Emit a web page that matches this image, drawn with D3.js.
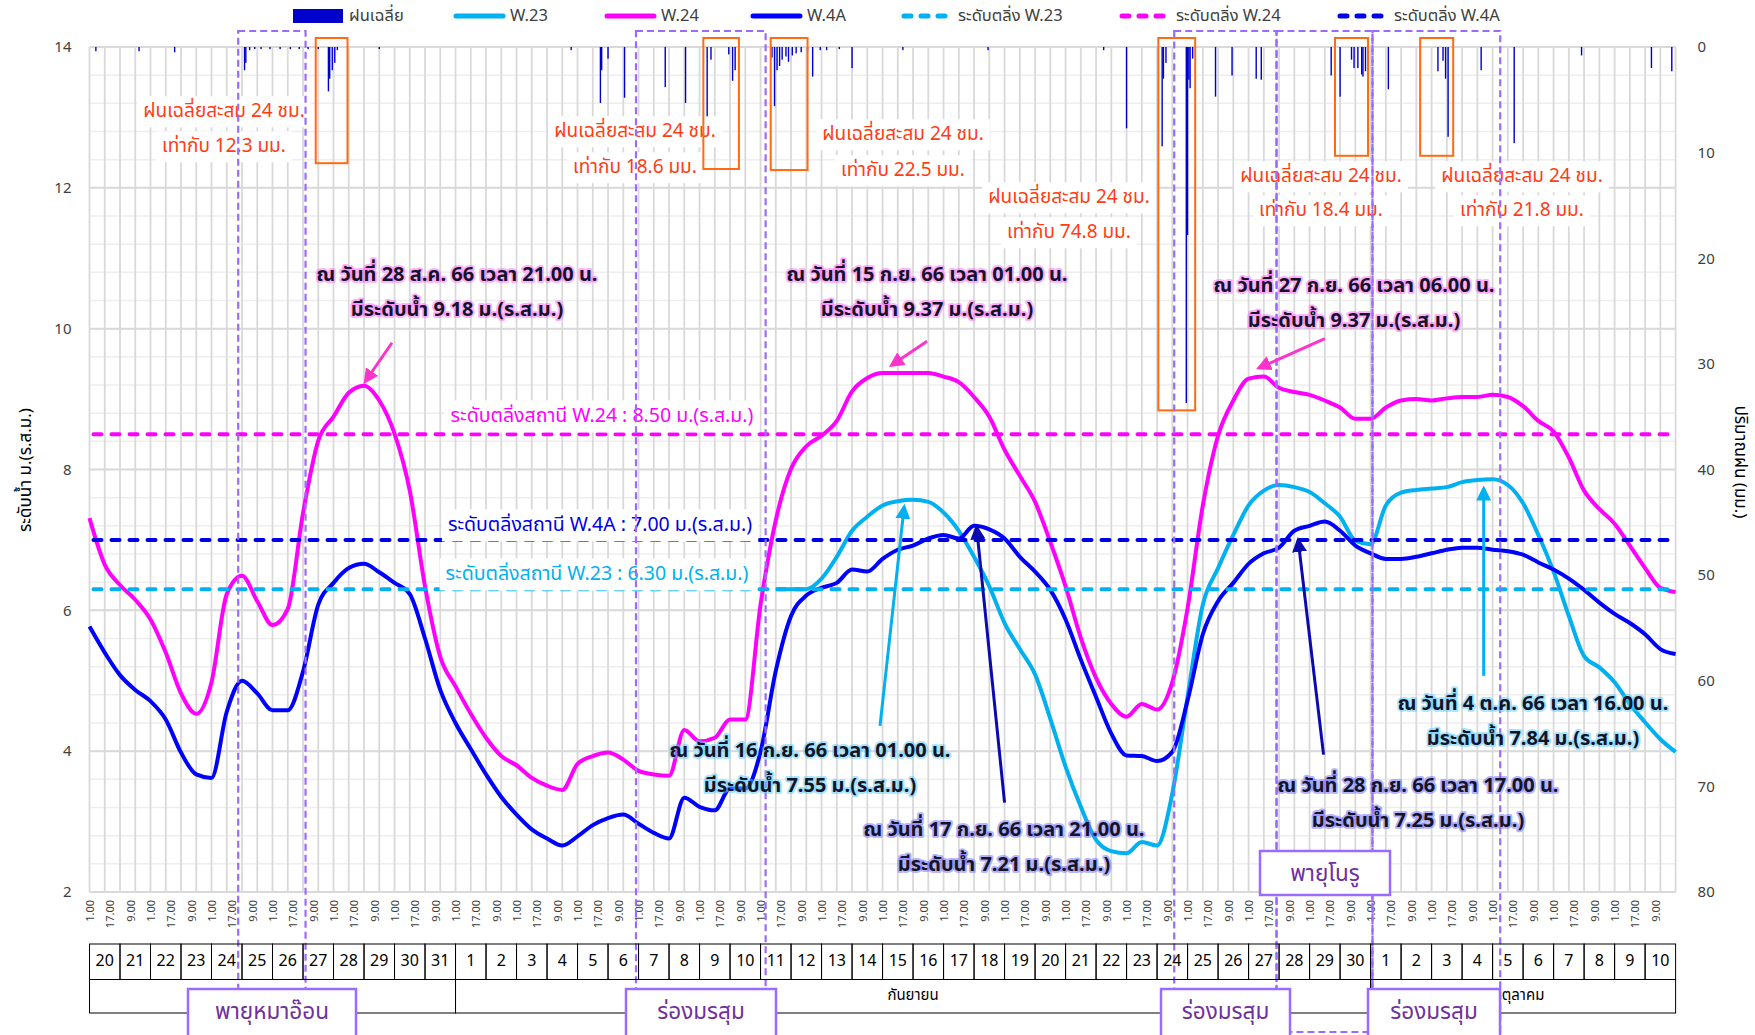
<!DOCTYPE html>
<html><head><meta charset="utf-8">
<script src="https://cdn.jsdelivr.net/npm/d3@7"></script>
<style>
body{margin:0;background:#fff}
svg{display:block}
text{font-family:Tahoma,"Noto Sans Thai","Noto Sans",sans-serif}
</style></head>
<body><svg id="c" width="1755" height="1035"></svg>
<script>
// ---------------- DATA ----------------
const stepHours = 12; // readings every 12 h from 20 Aug
const w24 = [7.31,6.65,6.36,6.15,5.87,5.40,4.82,4.53,4.98,6.23,6.49,6.13,5.79,6.02,7.38,8.41,8.75,9.09,9.19,8.98,
8.51,7.70,6.34,5.34,4.92,4.53,4.19,3.93,3.80,3.62,3.51,3.45,3.82,3.93,3.98,3.88,3.72,3.67,3.65,4.30,
4.14,4.19,4.45,4.45,6.08,7.28,8.01,8.33,8.48,8.69,9.11,9.30,9.37,9.37,9.37,9.37,9.32,9.24,9.03,8.75,
8.28,7.91,7.54,6.97,6.34,5.61,5.04,4.67,4.49,4.67,4.59,4.98,6.03,7.49,8.48,8.98,9.29,9.32,9.16,9.10,
9.06,8.98,8.88,8.72,8.72,8.88,8.98,9.00,8.98,9.01,9.03,9.03,9.06,9.03,8.90,8.69,8.54,8.17,7.70,7.44,
7.23,6.92,6.60,6.32,6.26];
const w4a = [5.77,5.40,5.08,4.87,4.71,4.45,3.98,3.67,3.62,4.56,5.00,4.82,4.58,4.58,5.13,6.08,6.39,6.60,6.66,6.54,
6.39,6.23,5.60,4.87,4.40,4.03,3.67,3.35,3.10,2.89,2.76,2.66,2.79,2.95,3.05,3.10,2.97,2.84,2.76,3.34,
3.21,3.16,3.47,3.47,3.99,5.14,5.92,6.21,6.32,6.39,6.58,6.55,6.73,6.86,6.92,7.02,7.07,7.02,7.20,7.15,
7.02,6.76,6.55,6.29,5.87,5.30,4.77,4.25,3.94,3.93,3.86,3.99,4.72,5.66,6.13,6.39,6.66,6.81,6.89,7.13,
7.20,7.26,7.13,6.92,6.81,6.73,6.73,6.76,6.81,6.86,6.89,6.89,6.86,6.84,6.79,6.68,6.58,6.45,6.29,6.11,
5.95,5.82,5.66,5.45,5.38];
const w23 = [null,null,null,null,null,null,null,null,null,null,null,null,null,null,null,null,null,null,null,null,
null,null,null,null,null,null,null,null,null,null,null,null,null,null,null,null,null,null,null,null,
null,null,null,null,null,6.30,6.30,6.30,6.45,6.76,7.13,7.33,7.49,7.55,7.57,7.54,7.39,7.13,6.76,6.34,
5.82,5.45,5.09,4.46,3.78,3.21,2.74,2.58,2.55,2.71,2.66,3.40,4.77,6.08,6.60,7.07,7.49,7.70,7.78,7.75,
7.68,7.52,7.33,6.99,6.94,7.49,7.67,7.71,7.73,7.75,7.82,7.85,7.86,7.78,7.52,7.07,6.55,5.92,5.35,5.19,
4.98,4.67,4.41,4.17,3.99];
// hourly average rainfall (hour since 20 Aug 00:00, mm)
const rainHours = [5,39,67,122,123,126,130,135,142,150,158,165,172,180,188,189,191,193,195,228,379,402,403,408,421,453,469,486,489,503,506,508,
537,539,541,543,545,548,550,553,556,560,565,569,575,580,590,600,640,707,798,816,844,845,847,863,864,865,866,868,886,899,918,922,
977,984,993,995,998,1001,1002,1004,1022,1061,1065,1067,1069,1095,1121,1174,1229,1245];
const rainMM = [0.4,0.4,0.5,2.2,1.5,0.3,0.2,0.2,0.2,0.2,0.2,0.2,0.2,0.2,4.2,3.0,2.2,1.5,0.3,0.2,0.3,5.3,2.2,1.1,4.8,3.8,5.3,8.5,1.2,0.7,3.2,2.2,
1.0,5.6,2.2,1.8,1.2,0.9,1.4,0.8,0.6,0.5,0.4,2.8,0.3,0.3,0.2,2.0,0.3,0.3,0.3,7.7,9.4,3.0,1.5,33.7,17.8,3.1,3.9,1.1,4.7,2.7,3.0,3.1,
2.7,4.7,1.2,2.0,2.0,2.6,2.8,2.3,4.0,2.3,1.3,3.0,8.5,2.2,9.1,0.8,2.0,2.3];
const thresholds = [{name:"W.23",v:6.30},{name:"W.24",v:8.50},{name:"W.4A",v:7.00}];
const days = [20,21,22,23,24,25,26,27,28,29,30,31,1,2,3,4,5,6,7,8,9,10,11,12,13,14,15,16,17,18,19,20,21,22,23,24,25,26,27,28,29,30,1,2,3,4,5,6,7,8,9,10];
const months = ["สิงหาคม","กันยายน","ตุลาคม"];
const monthDays = [12,30,10];
const levelTicks = [2,4,6,8,10,12,14];
const rainTicks = [0,10,20,30,40,50,60,70,80];
const tickHours = d3.range(0,1248,16);
const tickLabels = tickHours.map(h => ((1+h)%24)+".00");
// ---------------- SETUP ----------------
const C = {w23:"#00b0f0", w24:"#ff00ff", w4a:"#0000ff", rain:"#0000cc", purple:"#9b6bff", orange:"#ff6a13", otext:"#ff3c14"};
const svg = d3.select("#c");
const X0=89.5, X1=1675.6, Y0=47, Y1=892;
const x = d3.scaleLinear().domain([0,1248]).range([X0,X1]);
const y = d3.scaleLinear().domain([2,14]).range([Y1,Y0]);
const yr = d3.scaleLinear().domain([0,80]).range([Y0,Y1]);
const FONT = 'Tahoma,"Noto Sans Thai","Noto Sans",sans-serif';

// gridlines
const g = svg.append("g");
g.selectAll(".hm").data(d3.range(0,31).map(i=>2+i*0.4)).join("line")
 .attr("x1",X0).attr("x2",X1).attr("y1",d=>y(d)).attr("y2",d=>y(d)).attr("stroke","#eeeeee").attr("stroke-width",1.5);
g.selectAll(".hM").data(levelTicks).join("line")
 .attr("x1",X0).attr("x2",X1).attr("y1",d=>y(d)).attr("y2",d=>y(d)).attr("stroke","#d9d9d9").attr("stroke-width",2);
g.selectAll(".v").data(d3.range(0,1249,stepHours)).join("line")
 .attr("x1",d=>x(d)).attr("x2",d=>x(d)).attr("y1",Y0).attr("y2",Y1).attr("stroke","#d9d9d9").attr("stroke-width",1.8);

// axes
const ax = svg.append("g").attr("transform",`translate(${X0-8},0)`).call(d3.axisLeft(y).tickValues(levelTicks).tickSize(0).tickPadding(10));
ax.select(".domain").remove();
ax.selectAll("text").attr("font-size",15).attr("fill","#404040").attr("font-family",FONT);
const ar = svg.append("g").attr("transform",`translate(${X1+12},0)`).call(d3.axisRight(yr).tickValues(rainTicks).tickSize(0).tickPadding(10));
ar.select(".domain").remove();
ar.selectAll("text").attr("font-size",15).attr("fill","#404040").attr("font-family",FONT);
const ab = svg.append("g").attr("transform",`translate(0,${Y1+6})`).call(d3.axisBottom(x).tickValues(tickHours).tickFormat((d,i)=>tickLabels[i]).tickSize(0));
ab.select(".domain").remove();
ab.selectAll("text").attr("transform","rotate(-90)").attr("x",-2).attr("y",0).attr("dy","0.35em")
 .style("text-anchor","end").attr("font-size",11).attr("fill","#404040").attr("font-family",'"DejaVu Sans",sans-serif');

// axis titles
svg.append("text").attr("transform","translate(26,470) rotate(-90)").attr("text-anchor","middle").attr("dominant-baseline","middle")
 .attr("font-size",17).attr("fill","#000").text("ระดับน้ำ ม.(ร.ส.ม.)");
svg.append("text").attr("transform","translate(1740,462) rotate(90)").attr("text-anchor","middle").attr("dominant-baseline","middle")
 .attr("font-size",17).attr("fill","#000").text("ปริมาณฝน (มม.)");

// rain bars
svg.append("g").selectAll("rect").data(rainHours.map((h,i)=>({h,v:rainMM[i]}))).join("rect")
 .attr("x",d=>x(d.h)-0.7).attr("width",1.4).attr("y",yr(0)).attr("height",d=>yr(d.v)-yr(0)).attr("fill",C.rain);

// series
const line = d3.line().defined(d=>d.v!=null).x(d=>x(d.h)).y(d=>y(d.v)).curve(d3.curveMonotoneX);
const toPts = arr => arr.map((v,i)=>({h:i*stepHours,v}));
[[w23,C.w23],[w24,C.w24],[w4a,C.w4a]].forEach(([arr,col])=>{
  svg.append("path").attr("d",line(toPts(arr))).attr("fill","none").attr("stroke",col).attr("stroke-width",4).attr("stroke-linejoin","round");
});
// thresholds
const thrCol = {"W.23":C.w23,"W.24":C.w24,"W.4A":"#0000e6"};
svg.append("g").selectAll("line").data(thresholds).join("line")
 .attr("x1",X0+4).attr("x2",X1-2).attr("y1",d=>y(d.v)).attr("y2",d=>y(d.v))
 .attr("stroke",d=>thrCol[d.name]).attr("stroke-width",4).attr("stroke-dasharray","8,10").attr("stroke-linecap","round");

// threshold labels
const thrLabels = [
 {t:"ระดับตลิ่งสถานี W.24 : 8.50 ม.(ร.ส.ม.)", cx:602, cy:417, col:C.w24},
 {t:"ระดับตลิ่งสถานี W.4A : 7.00 ม.(ร.ส.ม.)", cx:600, cy:526, col:"#0000e6"},
 {t:"ระดับตลิ่งสถานี W.23 : 6.30 ม.(ร.ส.ม.)", cx:597, cy:575, col:C.w23}];
function boxedText(parent, t, cx, cy, size, col, bg, weight){
  const gg = parent.append("g");
  const r = gg.append("rect").attr("fill",bg||"none");
  const tx = gg.append("text").attr("x",cx).attr("y",cy).attr("text-anchor","middle").attr("dominant-baseline","middle")
    .attr("font-size",size).attr("fill",col).attr("font-weight",weight||"normal").text(t);
  const b = tx.node().getBBox();
  r.attr("x",b.x-6).attr("y",b.y-1).attr("width",b.width+12).attr("height",b.height+2);
  return tx;
}
thrLabels.forEach(d=>boxedText(svg,d.t,d.cx,d.cy,19.5,d.col,"#fff"));

// orange rain annotations
const rainNotes = [
 {cx:224, cy1:112, cy2:147, amt:"12.3"},
 {cx:635, cy1:132, cy2:168, amt:"18.6"},
 {cx:903, cy1:135, cy2:171, amt:"22.5"},
 {cx:1069, cy1:198, cy2:233, amt:"74.8"},
 {cx:1321, cy1:177, cy2:211, amt:"18.4"},
 {cx:1522, cy1:177, cy2:211, amt:"21.8"}];
rainNotes.forEach(d=>{
  boxedText(svg,"ฝนเฉลี่ยสะสม 24 ชม.",d.cx,d.cy1,19,C.otext,"#fff");
  boxedText(svg,"เท่ากับ "+d.amt+" มม.",d.cx,d.cy2,19,C.otext,"#fff");
});

// orange rectangles around heavy rain (hours / rain-axis mm)
const rainBoxes = [[178,203,11.0],[483,511,11.55],[536,565,11.65],[841,870,34.4],[980,1006,10.3],[1047,1073,10.3]];
svg.append("g").selectAll("rect").data(rainBoxes).join("rect")
 .attr("x",d=>x(d[0])).attr("width",d=>x(d[1])-x(d[0])).attr("y",yr(-0.85)).attr("height",d=>yr(d[2])-yr(-0.85))
 .attr("fill","none").attr("stroke",C.orange).attr("stroke-width",2);

// purple dashed event periods (hours)
const periods = [[117,170],[430,532],[853.5,934],[934,1009.5],[1009.5,1110]];
svg.append("g").selectAll("rect").data(periods).join("rect")
 .attr("x",d=>x(d[0])).attr("width",d=>x(d[1])-x(d[0])).attr("y",31).attr("height",1001)
 .attr("fill","none").attr("stroke",C.purple).attr("stroke-width",2.2).attr("stroke-dasharray","7,4");

// arrow markers
const defs = svg.append("defs");
const arrowCols = {m:"#ff33cc", c:"#00b0f0", b:"#0a0ab0"};
Object.entries(arrowCols).forEach(([k,col])=>{
  defs.append("marker").attr("id","ah"+k).attr("viewBox","0 0 10 10").attr("refX",8).attr("refY",5)
   .attr("markerWidth",5).attr("markerHeight",5).attr("orient","auto-start-reverse").attr("markerUnits","strokeWidth")
   .append("path").attr("d","M0,0 L10,5 L0,10 z").attr("fill",col);
});
// callouts
const glowCols = {m:"#ff66ff", c:"#55ccff", b:"#6b6bff"};
const callouts = [
 {l1:"ณ วันที่ 28 ส.ค. 66 เวลา 21.00 น.", l2:"มีระดับน้ำ 9.18 ม.(ร.ส.ม.)", cx:457, cy:275, k:"m", from:[238,9.80], to:[217,9.25]},
 {l1:"ณ วันที่ 15 ก.ย. 66 เวลา 01.00 น.", l2:"มีระดับน้ำ 9.37 ม.(ร.ส.ม.)", cx:927, cy:275, k:"m", from:[659,9.82], to:[631,9.48]},
 {l1:"ณ วันที่ 27 ก.ย. 66 เวลา 06.00 น.", l2:"มีระดับน้ำ 9.37 ม.(ร.ส.ม.)", cx:1354, cy:286, k:"m", from:[972,9.86], to:[920,9.44]},
 {l1:"ณ วันที่ 16 ก.ย. 66 เวลา 01.00 น.", l2:"มีระดับน้ำ 7.55 ม.(ร.ส.ม.)", cx:810, cy:751, k:"c", from:[622,4.36], to:[641,7.47]},
 {l1:"ณ วันที่ 17 ก.ย. 66 เวลา 21.00 น.", l2:"มีระดับน้ำ 7.21 ม.(ร.ส.ม.)", cx:1004, cy:830, k:"b", from:[720,3.27], to:[698,7.18]},
 {l1:"ณ วันที่ 28 ก.ย. 66 เวลา 17.00 น.", l2:"มีระดับน้ำ 7.25 ม.(ร.ส.ม.)", cx:1418, cy:786, k:"b", from:[971,3.95], to:[951,7.0]},
 {l1:"ณ วันที่ 4 ต.ค. 66 เวลา 16.00 น.", l2:"มีระดับน้ำ 7.84 ม.(ร.ส.ม.)", cx:1533, cy:704, k:"c", from:[1097,5.07], to:[1097,7.73]}];
callouts.forEach(d=>{
  svg.append("line").attr("x1",x(d.from[0])).attr("y1",y(d.from[1])).attr("x2",x(d.to[0])).attr("y2",y(d.to[1]))
   .attr("stroke",arrowCols[d.k]).attr("stroke-width",3).attr("marker-end",`url(#ah${d.k})`);
  [[d.l1,d.cy],[d.l2,d.cy+35]].forEach(([t,cy])=>{
    svg.append("text").attr("x",d.cx).attr("y",cy).attr("text-anchor","middle").attr("dominant-baseline","middle")
     .attr("font-size",20).attr("font-weight","bold").attr("fill","#141428")
     .attr("stroke",glowCols[d.k]).attr("stroke-opacity",0.5).attr("stroke-width",4).attr("stroke-linejoin","round")
     .attr("paint-order","stroke").text(t);
  });
});

// date table
const T0=944, T1=979.5, T2=1013;
const tb = svg.append("g");
tb.selectAll(".dc").data(days).join("rect").attr("x",(d,i)=>x(i*24)).attr("width",x(24)-x(0)).attr("y",T0).attr("height",T1-T0)
 .attr("fill","none").attr("stroke","#000").attr("stroke-width",1);
tb.selectAll(".dt").data(days).join("text").attr("x",(d,i)=>x(i*24+12)).attr("y",(T0+T1)/2).attr("text-anchor","middle")
 .attr("dominant-baseline","middle").attr("font-size",16).attr("fill","#000").text(d=>d);
let acc=0;
months.forEach((m,i)=>{
  const s=acc, e=acc+monthDays[i]; acc=e;
  tb.append("rect").attr("x",x(s*24)).attr("width",x(e*24)-x(s*24)).attr("y",T1).attr("height",T2-T1).attr("fill","none").attr("stroke","#000");
  tb.append("text").attr("x",x((s+e)/2*24)).attr("y",(T1+T2)/2).attr("text-anchor","middle").attr("dominant-baseline","middle")
   .attr("font-size",15).attr("fill","#000").text(m);
});

// event labels
const evLabels = [
 {t:"พายุหมาอ๊อน", x0:188, x1:356, y0:989, y1:1045},
 {t:"ร่องมรสุม", x0:626, x1:776, y0:989, y1:1045},
 {t:"ร่องมรสุม", x0:1161, x1:1290, y0:989, y1:1045},
 {t:"พายุโนรู", x0:1260, x1:1390, y0:851, y1:895},
 {t:"ร่องมรสุม", x0:1368, x1:1500, y0:989, y1:1045}];
evLabels.forEach(d=>{
  svg.append("rect").attr("x",d.x0).attr("y",d.y0).attr("width",d.x1-d.x0).attr("height",d.y1-d.y0)
   .attr("fill","#fff").attr("stroke",C.purple).attr("stroke-width",2.5);
  svg.append("text").attr("x",(d.x0+d.x1)/2).attr("y",d.y0+24).attr("text-anchor","middle").attr("dominant-baseline","middle")
   .attr("font-size",22.5).attr("fill","#7030a0").text(d.t);
});

// legend
const lg = svg.append("g").attr("font-size",16.5).attr("fill","#404040");
lg.append("rect").attr("x",293).attr("y",9).attr("width",50).attr("height",14).attr("fill",C.rain);
lg.append("text").attr("x",349).attr("y",16).attr("dominant-baseline","middle").text("ฝนเฉลี่ย");
const legItems = [
 {x:453,t:"W.23",c:C.w23,dash:false},{x:604,t:"W.24",c:C.w24,dash:false},{x:750,t:"W.4A",c:C.w4a,dash:false},
 {x:901,t:"ระดับตลิ่ง W.23",c:C.w23,dash:true},{x:1119,t:"ระดับตลิ่ง W.24",c:C.w24,dash:true},{x:1337,t:"ระดับตลิ่ง W.4A",c:"#0000e6",dash:true}];
legItems.forEach(d=>{
  lg.append("line").attr("x1",d.x+3).attr("x2",d.x+50).attr("y1",16).attr("y2",16).attr("stroke",d.c).attr("stroke-width",5)
   .attr("stroke-linecap","round").attr("stroke-dasharray",d.dash?"7,10":null);
  lg.append("text").attr("x",d.x+57).attr("y",16).attr("dominant-baseline","middle").text(d.t);
});
</script></body></html>
